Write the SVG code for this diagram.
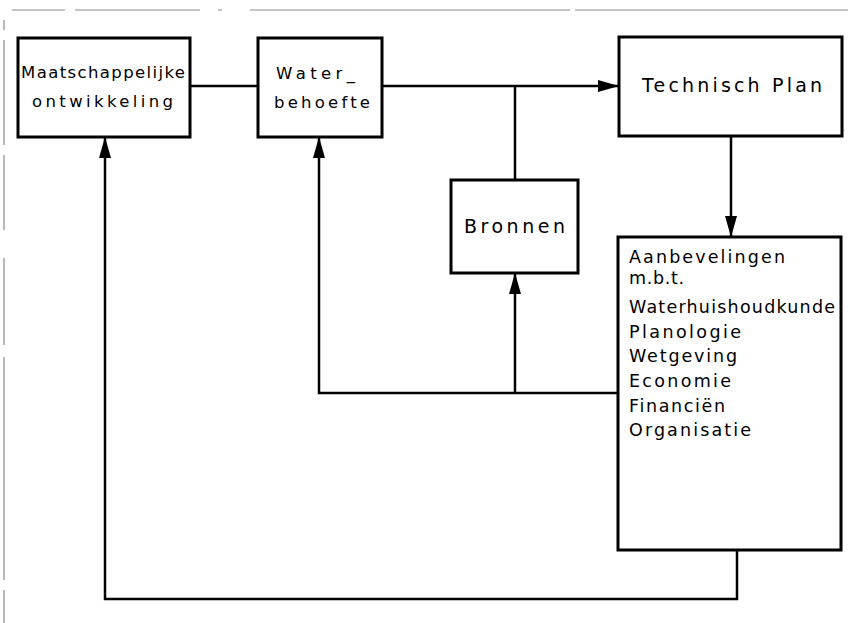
<svg xmlns="http://www.w3.org/2000/svg" width="850" height="623" viewBox="0 0 850 623">
<style>
.box{fill:#fff;stroke:#000;stroke-width:3}
.ln{fill:none;stroke:#000;stroke-width:2.5}
.fr{fill:none;stroke:#8a8a8a;stroke-width:1.2}
text{font-family:"DejaVu Sans","Liberation Sans",sans-serif;fill:#000}
.t15{font-size:16.5px}
.t18{font-size:19px}
.t16{font-size:17.5px}
</style>
<defs>
<marker id="ah" markerUnits="userSpaceOnUse" markerWidth="22" markerHeight="12" refX="21" refY="6" orient="auto">
<path d="M0,0 L21,6 L0,12 z" fill="#000"/>
</marker>
</defs>
<rect width="850" height="623" fill="#fff"/>
<g id="frame">
<path class="fr" d="M12,10H65 M75,10H200 M218,10H222 M250,10H570 M575,10H848 M4,20V30 M4,40V145 M4,155V230 M4,258V345 M4,357V580 M4,590V623"/>
</g>
<g id="connectors">
<path class="ln" d="M190,86H258"/>
<path class="ln" d="M382,86H619" marker-end="url(#ah)"/>
<path class="ln" d="M515,86V180"/>
<path class="ln" d="M731,136V237" marker-end="url(#ah)"/>
<path class="ln" d="M618,393H319V137" marker-end="url(#ah)"/>
<path class="ln" d="M515,393V273" marker-end="url(#ah)"/>
<path class="ln" d="M737,550V599H105V137" marker-end="url(#ah)"/>
</g>
<g id="maatschappelijke">
<rect class="box" x="18" y="38" width="172" height="99"/>
<text class="t15" x="21" y="78" textLength="164" lengthAdjust="spacing">Maatschappelijke</text>
<text class="t15" x="32" y="107" textLength="141" lengthAdjust="spacing">ontwikkeling</text>
</g>
<g id="waterbehoefte">
<rect class="box" x="258" y="38" width="124" height="99"/>
<text class="t15" x="276" y="79" textLength="79" lengthAdjust="spacing">Water_</text>
<text class="t15" x="274" y="108" textLength="96" lengthAdjust="spacing">behoefte</text>
</g>
<g id="technischplan">
<rect class="box" x="619" y="37" width="223" height="99"/>
<text class="t18" x="642" y="92" textLength="180" lengthAdjust="spacing">Technisch  Plan</text>
</g>
<g id="bronnen">
<rect class="box" x="451" y="180" width="127" height="93"/>
<text class="t18" x="464" y="233" textLength="101" lengthAdjust="spacing">Bronnen</text>
</g>
<g id="aanbevelingen">
<rect class="box" x="618" y="237" width="223" height="313"/>
<text class="t16" x="629" y="263" textLength="156" lengthAdjust="spacing">Aanbevelingen</text>
<text class="t16" x="629" y="284" textLength="55" lengthAdjust="spacing">m.b.t.</text>
<text class="t16" x="629" y="313" textLength="206" lengthAdjust="spacing">Waterhuishoudkunde</text>
<text class="t16" x="629" y="338" textLength="112" lengthAdjust="spacing">Planologie</text>
<text class="t16" x="629" y="362" textLength="108" lengthAdjust="spacing">Wetgeving</text>
<text class="t16" x="629" y="387" textLength="102" lengthAdjust="spacing">Economie</text>
<text class="t16" x="629" y="412" textLength="96" lengthAdjust="spacing">Financiën</text>
<text class="t16" x="629" y="436" textLength="122" lengthAdjust="spacing">Organisatie</text>
</g>
</svg>
